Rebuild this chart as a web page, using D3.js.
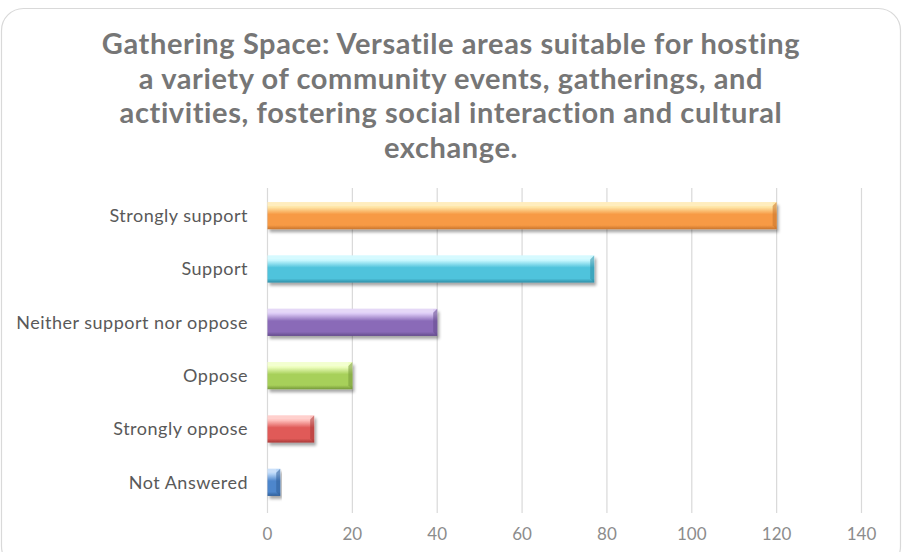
<!DOCTYPE html>
<html>
<head>
<meta charset="utf-8">
<script src="https://cdn.jsdelivr.net/npm/d3@7"></script>
<style>
  html, body { margin: 0; padding: 0; background: #ffffff; }
  svg { display: block; }
</style>
</head>
<body>
<svg id="chart" width="903" height="552"></svg>
<script>
// Survey responses
const categories = ["Strongly support", "Support", "Neither support nor oppose", "Oppose", "Strongly oppose", "Not Answered"];
const counts = [120, 77, 40, 20, 11, 3];
const tickValues = [0, 20, 40, 60, 80, 100, 120, 140];
const titleLines = [
  "Gathering Space: Versatile areas suitable for hosting",
  "a variety of community events, gatherings, and",
  "activities, fostering social interaction and cultural",
  "exchange."
];
// base, highlight, shade per bar
const barColors = [
  ["#f79a45", "#ffe7a8", "#c8742c"],
  ["#4fc3dc", "#c8f8ff", "#2f8ea6"],
  ["#8a6bb8", "#dccbf5", "#644b8c"],
  ["#a7d05a", "#efffc0", "#76993a"],
  ["#e05a58", "#ffc0bd", "#a83b39"],
  ["#4d86cc", "#b8d6f8", "#2f5f99"]
];

const svg = d3.select("#chart");

// card background with rounded border
svg.append("rect")
  .attr("x", 1.5).attr("y", 8.5)
  .attr("width", 899).attr("height", 560)
  .attr("rx", 22)
  .attr("fill", "#ffffff")
  .attr("stroke", "#d9d9d9")
  .attr("stroke-width", 1.2);

// title
const title = svg.append("text")
  .attr("text-anchor", "middle")
  .attr("font-family", "Lato, 'Open Sans', sans-serif")
  .attr("font-weight", "bold")
  .attr("font-size", 29)
  .attr("letter-spacing", 0.6)
  .attr("fill", "#767676");
titleLines.forEach((line, i) => {
  title.append("tspan")
    .attr("x", 451)
    .attr("y", 54 + i * 34.5)
    .text(line);
});

const x = d3.scaleLinear().domain([0, 140]).range([267.5, 861.5]);
const y = d3.scaleBand().domain(categories).range([189, 509]).paddingInner(0.49).paddingOuter(0.245);

const defs = svg.append("defs");

// soft drop shadow beneath bars
const shadow = defs.append("filter").attr("id", "barShadow")
  .attr("x", "-5%").attr("y", "-20%").attr("width", "115%").attr("height", "170%");
shadow.append("feGaussianBlur").attr("in", "SourceAlpha").attr("stdDeviation", 1.6).attr("result", "blur");
shadow.append("feOffset").attr("in", "blur").attr("dx", 1.5).attr("dy", 3).attr("result", "off");
shadow.append("feComponentTransfer").attr("in", "off").attr("result", "shade")
  .append("feFuncA").attr("type", "linear").attr("slope", 0.35);
const merge = shadow.append("feMerge");
merge.append("feMergeNode").attr("in", "shade");
merge.append("feMergeNode").attr("in", "SourceGraphic");

barColors.forEach((c, i) => {
  const g = defs.append("linearGradient").attr("id", "grad" + i)
    .attr("x1", 0).attr("y1", 0).attr("x2", 0).attr("y2", 1);
  g.append("stop").attr("offset", "0%").attr("stop-color", c[1]);
  g.append("stop").attr("offset", "18%").attr("stop-color", c[1]);
  g.append("stop").attr("offset", "45%").attr("stop-color", c[0]);
  g.append("stop").attr("offset", "85%").attr("stop-color", c[0]);
  g.append("stop").attr("offset", "100%").attr("stop-color", c[2]);
});

// vertical gridlines
svg.append("g")
  .selectAll("line")
  .data(tickValues)
  .join("line")
  .attr("x1", d => x(d)).attr("x2", d => x(d))
  .attr("y1", 188).attr("y2", 513)
  .attr("stroke", "#d9d9d9")
  .attr("stroke-width", 1.2);

// bars
const bars = svg.append("g")
  .selectAll("g")
  .data(categories.map((c, i) => ({ c, v: counts[i], i })))
  .join("g");

bars.append("rect")
  .attr("x", x(0))
  .attr("y", d => y(d.c))
  .attr("width", d => x(d.v) - x(0))
  .attr("height", y.bandwidth())
  .attr("fill", d => `url(#grad${d.i})`)
  .attr("filter", "url(#barShadow)");

// bevelled right end of each bar
bars.append("path")
  .attr("d", d => {
    const x1 = x(d.v), top = y(d.c), h = y.bandwidth(), b = 4;
    return `M${x1},${top} L${x1 - b},${top + b} L${x1 - b},${top + h - b} L${x1},${top + h} Z`;
  })
  .attr("fill", d => barColors[d.i][2])
  .attr("opacity", 0.55);

// top highlight strip
bars.append("rect")
  .attr("x", x(0))
  .attr("y", d => y(d.c))
  .attr("width", d => Math.max(0, x(d.v) - x(0) - 4))
  .attr("height", 4)
  .attr("fill", "#ffffff")
  .attr("opacity", 0.25);

// category axis labels
svg.append("g")
  .selectAll("text")
  .data(categories)
  .join("text")
  .attr("x", 248)
  .attr("y", d => y(d) + y.bandwidth() / 2)
  .attr("dy", "0.35em")
  .attr("text-anchor", "end")
  .attr("font-family", "Lato, 'Open Sans', sans-serif")
  .attr("font-size", 18)
  .attr("letter-spacing", 0.5)
  .attr("fill", "#595959")
  .text(d => d);

// value axis labels
svg.append("g")
  .selectAll("text")
  .data(tickValues)
  .join("text")
  .attr("x", d => x(d))
  .attr("y", 540)
  .attr("text-anchor", "middle")
  .attr("font-family", "Lato, 'Open Sans', sans-serif")
  .attr("font-size", 17)
  .attr("fill", "#8c8c8c")
  .text(d => d);
</script>
</body>
</html>
